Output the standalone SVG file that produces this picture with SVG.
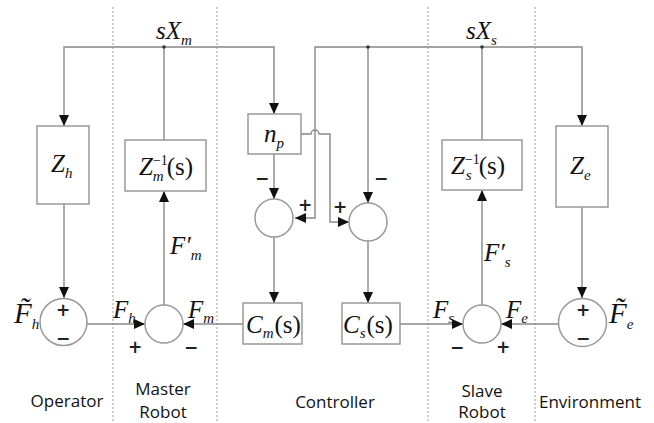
<svg xmlns="http://www.w3.org/2000/svg" width="654" height="423" viewBox="0 0 654 423">
<style>
.div{stroke:#999;stroke-width:1;stroke-dasharray:2,2;fill:none}
.ln{stroke:#888;stroke-width:1.4;fill:none}
.box{stroke:#999;stroke-width:1.5;fill:#fff}
.sum{stroke:#999;stroke-width:1.5;fill:#fff}
.m{font-family:"Liberation Serif",serif;font-style:italic;font-size:25px;fill:#111}
.big{font-size:29px}
.r{font-family:"Liberation Serif",serif;font-style:normal;font-size:25px}
.sb{font-style:italic;font-size:15px}
.sp{font-style:normal;font-size:14px}
.sg{font-family:"DejaVu Sans",sans-serif;font-size:17px;font-weight:bold;fill:#222;text-anchor:middle}
.lb{font-family:"Open Sans",sans-serif;font-size:17px;fill:#111;text-anchor:middle}
</style>
<defs>
<marker id="ah" markerUnits="userSpaceOnUse" markerWidth="11" markerHeight="10" refX="11" refY="5" orient="auto">
<path d="M0,0 L11,5 L0,10 z" fill="#111"/>
</marker>
</defs>
<rect width="654" height="423" fill="#fff"/>
<g id="dividers">
<line class="div" x1="113" y1="7" x2="113" y2="423"/>
<line class="div" x1="217" y1="7" x2="217" y2="423"/>
<line class="div" x1="428" y1="7" x2="428" y2="423"/>
<line class="div" x1="535" y1="7" x2="535" y2="423"/>
</g>
<g id="connectors">
<path class="ln" d="M164,47 H64 V126" marker-end="url(#ah)"/>
<path class="ln" d="M164,47 H274 V114" marker-end="url(#ah)"/>
<line class="ln" x1="164" y1="140" x2="164" y2="47"/>
<path class="ln" d="M368,47 H315 V218 H295" marker-end="url(#ah)"/>
<path class="ln" d="M368,47 H582 V126" marker-end="url(#ah)"/>
<line class="ln" x1="368" y1="47" x2="368" y2="203" marker-end="url(#ah)"/>
<line class="ln" x1="482" y1="140" x2="482" y2="47"/>
<path class="ln" d="M301,134 H311 A4,4 0 0 1 319,134 H330 V222 H349" marker-end="url(#ah)"/>
<line class="ln" x1="274" y1="154" x2="274" y2="199" marker-end="url(#ah)"/>
<line class="ln" x1="274" y1="237" x2="274" y2="303" marker-end="url(#ah)"/>
<line class="ln" x1="368" y1="241" x2="368" y2="303" marker-end="url(#ah)"/>
<line class="ln" x1="64" y1="204" x2="64" y2="298" marker-end="url(#ah)"/>
<line class="ln" x1="87" y1="324" x2="145" y2="324" marker-end="url(#ah)"/>
<line class="ln" x1="243" y1="324" x2="183" y2="324" marker-end="url(#ah)"/>
<line class="ln" x1="164" y1="305" x2="164" y2="191" marker-end="url(#ah)"/>
<line class="ln" x1="400" y1="324" x2="463" y2="324" marker-end="url(#ah)"/>
<line class="ln" x1="558" y1="324" x2="501" y2="324" marker-end="url(#ah)"/>
<line class="ln" x1="482" y1="305" x2="482" y2="190" marker-end="url(#ah)"/>
<line class="ln" x1="582" y1="207" x2="582" y2="298" marker-end="url(#ah)"/>
<circle cx="164" cy="47" r="1.8" fill="#333"/>
<circle cx="368" cy="47" r="1.8" fill="#333"/>
<circle cx="482" cy="47" r="1.8" fill="#333"/>
</g>
<g id="bus-labels">
<text class="m" x="156" y="39">sX<tspan class="sb" dy="6">m</tspan></text>
<text class="m" x="466" y="39">sX<tspan class="sb" dy="6">s</tspan></text>
</g>
<g id="Zh">
<rect class="box" x="37" y="126" width="52" height="78"/>
<text class="m" x="51" y="172">Z<tspan class="sb" dy="6">h</tspan></text>
</g>
<g id="Zm">
<rect class="box" x="125" y="140" width="81" height="51"/>
<text class="m" x="139" y="175">Z<tspan class="sp" dy="-10">−1</tspan><tspan class="sb" dx="-15" dy="16">m</tspan><tspan class="r" dx="3" dy="-6">(s)</tspan></text>
</g>
<g id="np">
<rect class="box" x="248" y="114" width="53" height="40"/>
<text class="m" x="264" y="142">n<tspan class="sb" dy="6">p</tspan></text>
</g>
<g id="Zs">
<rect class="box" x="442" y="140" width="80" height="50"/>
<text class="m" x="451" y="174">Z<tspan class="sp" dy="-10">−1</tspan><tspan class="sb" dx="-14" dy="16">s</tspan><tspan class="r" dx="7" dy="-6">(s)</tspan></text>
</g>
<g id="Ze">
<rect class="box" x="556" y="126" width="52" height="81"/>
<text class="m" x="570" y="174">Z<tspan class="sb" dy="6">e</tspan></text>
</g>
<g id="sumL">
<circle class="sum" cx="274" cy="218" r="19"/>
<text class="sg" x="262" y="184">−</text>
<text class="sg" x="305" y="211">+</text>
</g>
<g id="sumR">
<circle class="sum" cx="368" cy="222" r="19"/>
<text class="sg" x="381" y="184">−</text>
<text class="sg" x="340" y="213">+</text>
</g>
<g id="Cm">
<rect class="box" x="243" y="303" width="59" height="41"/>
<text class="m" x="246" y="333">C<tspan class="sb" dy="5">m</tspan><tspan class="r" font-size="24" dx="1" dy="-5">(s)</tspan></text>
</g>
<g id="Cs">
<rect class="box" x="342" y="303" width="58" height="41"/>
<text class="m" x="343" y="333">C<tspan class="sb" dy="5">s</tspan><tspan class="r" font-size="24" dx="1" dy="-5">(s)</tspan></text>
</g>
<g id="sumOp">
<circle class="sum" cx="63.5" cy="322" r="23.5"/>
<text class="sg" x="63" y="316">+</text>
<text class="sg" x="63" y="344">−</text>
<text class="m big" x="14" y="323">F̃<tspan class="sb" dy="6">h</tspan></text>
</g>
<g id="sumM">
<circle class="sum" cx="164" cy="324" r="19"/>
<text class="sg" x="135" y="353">+</text>
<text class="sg" x="191" y="353">−</text>
<text class="m" x="113" y="318">F<tspan class="sb" dy="5">h</tspan></text>
<text class="m" x="188" y="318">F<tspan class="sb" dy="5">m</tspan></text>
<text class="m" x="170" y="254">F′<tspan class="sb" dy="6">m</tspan></text>
</g>
<g id="sumS">
<circle class="sum" cx="482" cy="324" r="19"/>
<text class="sg" x="457" y="353">−</text>
<text class="sg" x="503" y="353">+</text>
<text class="m" x="433" y="318">F<tspan class="sb" dy="5">s</tspan></text>
<text class="m" x="506" y="318">F<tspan class="sb" dy="5">e</tspan></text>
<text class="m" x="484" y="261">F′<tspan class="sb" dy="6">s</tspan></text>
</g>
<g id="sumEnv">
<circle class="sum" cx="582.5" cy="322.5" r="24"/>
<text class="sg" x="583" y="316">+</text>
<text class="sg" x="583" y="344">−</text>
<text class="m big" x="609" y="323">F̃<tspan class="sb" dy="6">e</tspan></text>
</g>
<g id="labels">
<text class="lb" x="67" y="407">Operator</text>
<text class="lb" x="163" y="395">Master</text>
<text class="lb" x="163" y="418">Robot</text>
<text class="lb" x="335" y="408">Controller</text>
<text class="lb" x="482" y="397">Slave</text>
<text class="lb" x="482" y="418">Robot</text>
<text class="lb" x="590" y="408">Environment</text>
</g>
</svg>
